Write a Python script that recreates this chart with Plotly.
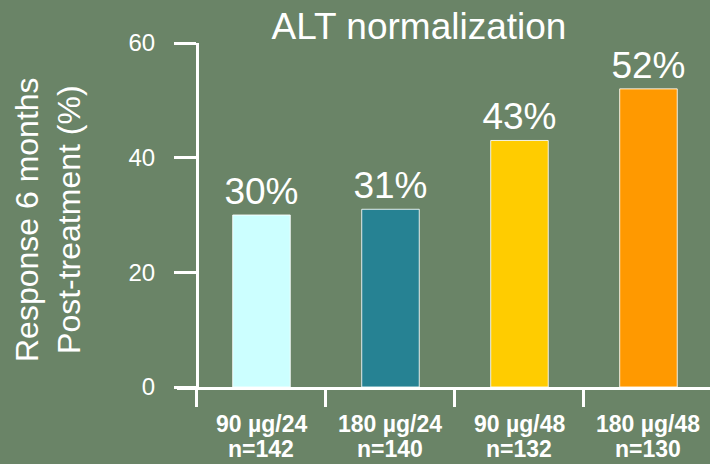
import plotly.graph_objects as go

# Response data: ALT normalization 6 months post-treatment
doses = ["90 µg/24", "180 µg/24", "90 µg/48", "180 µg/48"]
patients = [142, 140, 132, 130]
response_pct = [30, 31, 43, 52]
bar_colors = ["#ccffff", "#268293", "#ffcc00", "#ff9900"]
y_ticks = [0, 20, 40, 60]

labels = [f"{v}%" for v in response_pct]

FONT = "Liberation Sans, Arial, sans-serif"
BG = "#6a8467"
PLOT_TOP, PLOT_BOTTOM, PLOT_LEFT, W, H = 43, 387, 177, 710, 464
plot_h = PLOT_BOTTOM - PLOT_TOP


def paper_y(px):
    return (PLOT_BOTTOM - px) / plot_h


fig = go.Figure(
    go.Bar(
        x=doses,
        y=response_pct,
        width=0.446,
        marker=dict(color=bar_colors, line=dict(color="rgba(255,255,255,0.85)", width=1)),
        text=labels,
        textposition="outside",
        constraintext="none",
        cliponaxis=False,
        textfont=dict(family=FONT, size=37, color="white"),
        hoverinfo="skip",
    )
)

# Two-line category captions (dose / group size) with tight line spacing
captions = []
for d, n in zip(doses, patients):
    captions.append(dict(
        text=f"<b>{d}</b>", x=d, xref="x", yref="paper", y=paper_y(424),
        xanchor="center", yanchor="middle", showarrow=False,
        font=dict(family=FONT, size=23, color="white"),
    ))
    captions.append(dict(
        text=f"<b>n={n}</b>", x=d, xref="x", yref="paper", y=paper_y(449),
        xanchor="center", yanchor="middle", showarrow=False,
        font=dict(family=FONT, size=23, color="white"),
    ))

fig.update_layout(
    width=W,
    height=H,
    margin=dict(l=PLOT_LEFT, r=0, t=PLOT_TOP, b=H - PLOT_BOTTOM),
    paper_bgcolor=BG,
    plot_bgcolor=BG,
    showlegend=False,
    font=dict(family=FONT, color="white"),
    title=dict(
        text="ALT normalization",
        font=dict(family=FONT, size=37, color="white"),
        xref="container",
        yref="container",
        x=419 / W,
        xanchor="center",
        y=1 - 26 / H,
        yanchor="middle",
    ),
    xaxis=dict(
        type="category",
        range=[-0.655, 3.477],
        domain=[0, 1],
        showline=True,
        linecolor="white",
        linewidth=3,
        showgrid=False,
        zeroline=False,
        ticks="outside",
        tickson="boundaries",
        ticklen=17,
        tickwidth=3,
        tickcolor="white",
        showticklabels=False,
    ),
    yaxis=dict(
        range=[0, 60],
        anchor="free",
        position=20 / (W - PLOT_LEFT),
        showline=True,
        linecolor="white",
        linewidth=3,
        showgrid=False,
        zeroline=False,
        tickvals=y_ticks,
        ticks="outside",
        ticklen=22,
        tickwidth=3,
        tickcolor="white",
        ticklabelstandoff=14,
        tickfont=dict(family=FONT, size=24, color="white"),
    ),
    annotations=[
        dict(
            text="Response 6 months<br>Post-treatment (%)",
            textangle=-90,
            xref="paper",
            yref="paper",
            x=(48 - PLOT_LEFT) / (W - PLOT_LEFT),
            y=paper_y(220),
            xanchor="center",
            yanchor="middle",
            showarrow=False,
            font=dict(family=FONT, size=32, color="white"),
        )
    ] + captions,
)

fig.write_html("out.html")
